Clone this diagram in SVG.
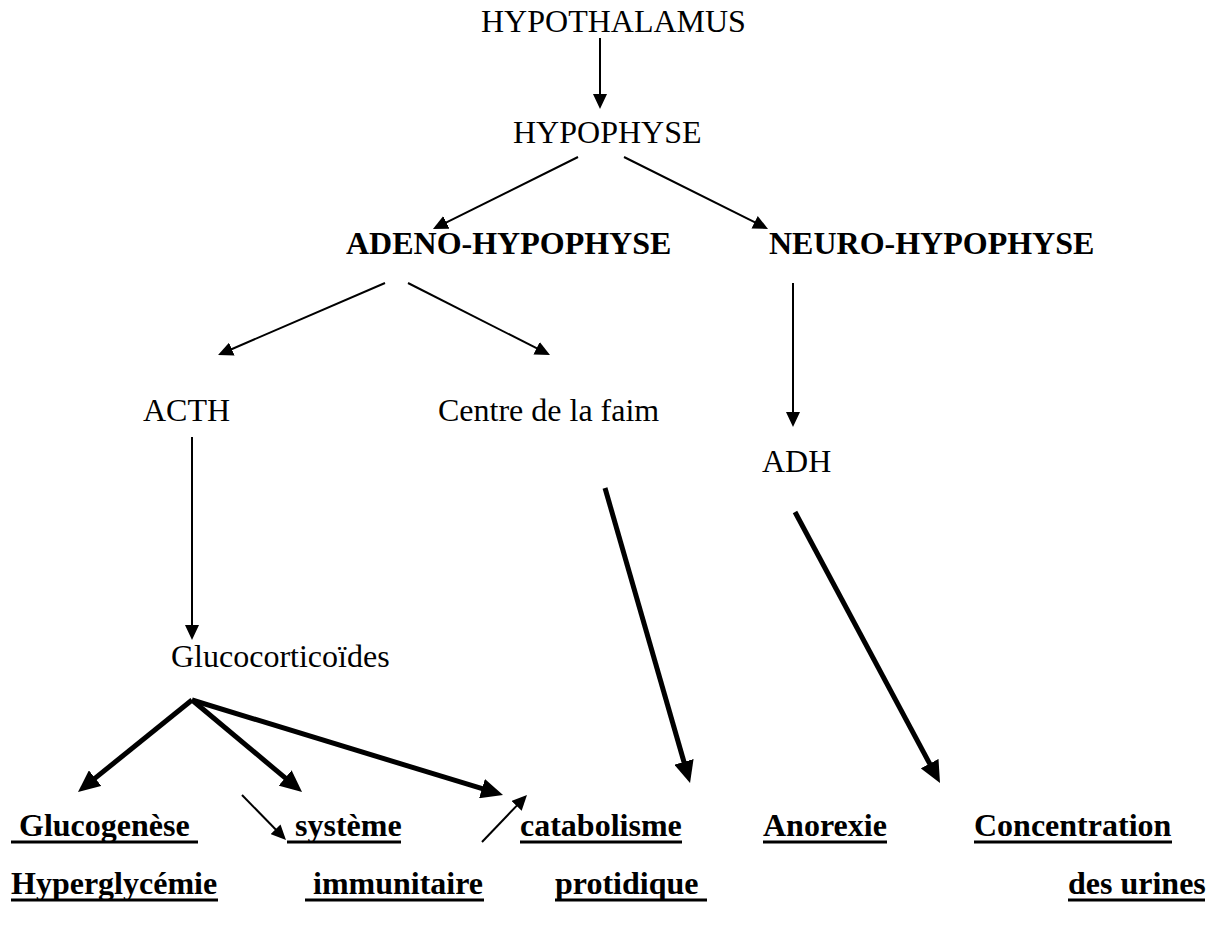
<svg xmlns="http://www.w3.org/2000/svg" width="1216" height="925" viewBox="0 0 1216 925">
<style>
text{font-family:"Liberation Serif","Times New Roman",serif;font-size:32px;fill:#000}
.b{font-weight:bold}
.thin{stroke:#000;stroke-width:2;fill:none;marker-end:url(#ah)}
.thick{stroke:#000;stroke-width:5;fill:none;marker-end:url(#AH)}
.ul{stroke:#000;stroke-width:3}
</style>
<defs>
<marker id="ah" markerUnits="userSpaceOnUse" markerWidth="15" markerHeight="14" refX="1" refY="7" orient="auto"><path d="M0,0 L15,7 L0,14 z" fill="#000"/></marker>
<marker id="AH" markerUnits="userSpaceOnUse" markerWidth="22" markerHeight="20" refX="2" refY="10" orient="auto"><path d="M0,0 L22,10 L0,20 z" fill="#000"/></marker>
</defs>
<rect width="1216" height="925" fill="#fff"/>
<g id="connectors">
<line class="thin" x1="600" y1="38" x2="600" y2="95"/>
<line class="thin" x1="578" y1="157" x2="445.5" y2="222.8"/>
<line class="thin" x1="624" y1="157" x2="755.5" y2="222.7"/>
<line class="thin" x1="385" y1="283" x2="230.9" y2="349.5"/>
<line class="thin" x1="408" y1="283" x2="537.5" y2="348.7"/>
<line class="thin" x1="793" y1="283" x2="793" y2="413"/>
<line class="thin" x1="192" y1="437" x2="192" y2="626"/>
<line class="thin" x1="242" y1="795" x2="276.2" y2="830"/>
<line class="thin" x1="482" y1="842" x2="517.3" y2="805.1"/>
<line class="thick" x1="192" y1="700" x2="93.6" y2="779.4"/>
<line class="thick" x1="192" y1="700" x2="286.7" y2="779.2"/>
<line class="thick" x1="192" y1="700" x2="483.9" y2="789.2"/>
<line class="thick" x1="605" y1="488" x2="684.5" y2="763.8"/>
<line class="thick" x1="795" y1="512" x2="930.6" y2="765.4"/>
</g>
<g id="hypothalamus"><text x="481" y="32">HYPOTHALAMUS</text></g>
<g id="hypophyse"><text x="513" y="143">HYPOPHYSE</text></g>
<g id="adeno"><text class="b" x="346" y="254">ADENO-HYPOPHYSE</text></g>
<g id="neuro"><text class="b" x="769" y="254">NEURO-HYPOPHYSE</text></g>
<g id="acth"><text x="143" y="421">ACTH</text></g>
<g id="centre"><text x="438" y="421">Centre de la faim</text></g>
<g id="adh"><text x="762" y="472">ADH</text></g>
<g id="gluco"><text x="171" y="667">Glucocorticoïdes</text></g>
<g id="glucogenese"><text class="b" x="19" y="836">Glucogenèse</text><line class="ul" x1="11" y1="842" x2="198" y2="842"/><text class="b" x="11" y="894">Hyperglycémie</text><line class="ul" x1="11" y1="900" x2="218" y2="900"/></g>
<g id="systeme"><text class="b" x="295" y="836">système</text><line class="ul" x1="287" y1="842" x2="401" y2="842"/><text class="b" x="313" y="894">immunitaire</text><line class="ul" x1="305" y1="900" x2="484" y2="900"/></g>
<g id="catabolisme"><text class="b" x="520" y="836">catabolisme</text><line class="ul" x1="520" y1="842" x2="682" y2="842"/><text class="b" x="555" y="894">protidique</text><line class="ul" x1="555" y1="900" x2="707" y2="900"/></g>
<g id="anorexie"><text class="b" x="763" y="836">Anorexie</text><line class="ul" x1="763" y1="842" x2="887" y2="842"/></g>
<g id="concentration"><text class="b" x="974" y="836">Concentration</text><line class="ul" x1="974" y1="842" x2="1172" y2="842"/><text class="b" x="1068" y="894">des urines</text><line class="ul" x1="1068" y1="900" x2="1205" y2="900"/></g>
</svg>
